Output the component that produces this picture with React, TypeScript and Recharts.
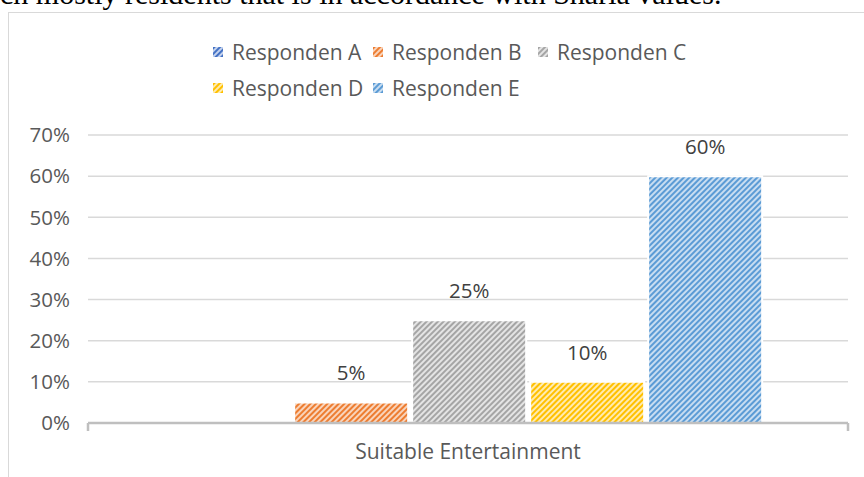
import { BarChart, Bar, XAxis, YAxis, CartesianGrid, LabelList } from 'recharts';

const categories = ['Suitable Entertainment'];
const seriesNames = ['Responden A', 'Responden B', 'Responden C', 'Responden D', 'Responden E'];
const seriesKeys = ['A', 'B', 'C', 'D', 'E'];
const seriesValues = [0, 0.05, 0.25, 0.1, 0.6];
const yTicks = [0, 0.1, 0.2, 0.3, 0.4, 0.5, 0.6, 0.7];

const colors = ['#4472c4', '#ed7d31', '#a5a5a5', '#ffc000', '#5b9bd5'];
const tints = ['#c5d3ee', '#f9d4bb', '#e4e4e4', '#ffebb0', '#c8ddf1'];

const data = categories.map((name) => {
  const row: Record<string, string | number> = { name };
  seriesKeys.forEach((k, i) => {
    row[k] = seriesValues[i]!;
  });
  return row;
});

const pct = (v: unknown) => `${Math.round(Number(v) * 100)}%`;
const font = '"Open Sans", sans-serif';
const AXIS = '#bfbfbf';
const TICK_MARGIN = 21;

// category label plus the two boundary tick marks Excel draws at the band edges
function CategoryTick(props: any) {
  const { x, y, width, payload } = props;
  const half = (typeof width === 'number' && width > 0 ? width : 760) / 2;
  const axisY = y - TICK_MARGIN;
  return (
    <g>
      <line x1={x - half} y1={axisY} x2={x - half} y2={axisY + 8} stroke={AXIS} strokeWidth={2.5} />
      <line x1={x + half} y1={axisY} x2={x + half} y2={axisY + 8} stroke={AXIS} strokeWidth={2.5} />
      <text x={x} y={y} dy="0.71em" textAnchor="middle" fill="#595959" fontSize={21} fontFamily={font}>
        {payload.value}
      </text>
    </g>
  );
}

function Legend() {
  const widths = [160, 165, 160];
  const rows = [seriesNames.slice(0, 3), seriesNames.slice(3)];
  return (
    <div style={{ position: 'absolute', left: 213, top: 34, fontFamily: font, fontSize: 21, color: '#595959' }}>
      {rows.map((row, r) => (
        <div key={r} style={{ display: 'flex', height: 36, alignItems: 'center' }}>
          {row.map((name, j) => {
            const i = r * 3 + j;
            return (
              <div key={name} style={{ width: widths[j], display: 'flex', alignItems: 'center', whiteSpace: 'nowrap' }}>
                <svg width={10} height={10} style={{ marginRight: 9 }}>
                  <rect width={10} height={10} fill={`url(#pat${i})`} />
                </svg>
                {name}
              </div>
            );
          })}
        </div>
      ))}
    </div>
  );
}

export default function App() {
  return (
    <div style={{ position: 'absolute', left: 0, top: 0, width: 864, height: 477, overflow: 'hidden', background: '#fff' }}>
      {/* cut-off line of body text above the figure */}
      <div style={{ position: 'absolute', left: 0, top: -23, whiteSpace: 'nowrap', fontFamily: '"Liberation Serif", serif', fontSize: 30, color: '#000' }}>
        ch mostly residents that is in accordance with Sharia values.
      </div>
      <div style={{ position: 'absolute', left: 8, top: 12, width: 900, height: 500, border: '1px solid #d9d9d9', boxSizing: 'border-box', background: '#fff' }} />
      <div style={{ position: 'absolute', left: 0, top: 0 }}>
        <BarChart
          width={864}
          height={477}
          data={data}
          margin={{ top: 135, right: 16, left: 0, bottom: 14 }}
          barCategoryGap="11.6%"
          barGap={4}
        >
          <defs>
            {colors.map((c, i) => (
              <pattern key={c} id={`pat${i}`} patternUnits="userSpaceOnUse" width={4} height={4} patternTransform="rotate(45)">
                <rect width={4} height={4} fill={tints[i]} />
                <line x1={1} y1={0} x2={1} y2={4} stroke={c} strokeWidth={2} />
              </pattern>
            ))}
          </defs>
          <CartesianGrid vertical={false} stroke="#d9d9d9" strokeWidth={1.5} />
          <XAxis
            dataKey="name"
            height={40}
            axisLine={{ stroke: AXIS, strokeWidth: 2.5 }}
            tickLine={false}
            tickSize={0}
            tickMargin={TICK_MARGIN}
            tick={<CategoryTick />}
          />
          <YAxis
            width={88}
            domain={[0, 0.7]}
            ticks={yTicks}
            tickFormatter={pct}
            axisLine={false}
            tickLine={false}
            tickSize={0}
            tickMargin={18}
            tick={{ fill: '#595959', fontSize: 20.5, fontFamily: font }}
          />
          {seriesKeys.map((k, i) => (
            <Bar key={k} dataKey={k} name={seriesNames[i]} fill={`url(#pat${i})`} stroke="#fff" strokeWidth={2} isAnimationActive={false}>
              <LabelList dataKey={k} position="top" offset={22} formatter={pct} fill="#404040" fontSize={20.5} fontFamily={font} />
            </Bar>
          ))}
        </BarChart>
      </div>
      <Legend />
    </div>
  );
}
